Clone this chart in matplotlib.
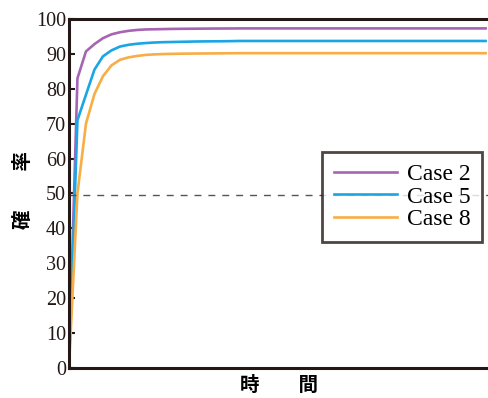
import matplotlib.pyplot as plt
import numpy as np

plt.rcParams['font.family'] = ['Liberation Serif', 'DejaVu Serif']

# sampled curves (time step index vs probability %)
t = np.arange(0, 50)
case2 = [0, 83, 90.7, 92.8, 94.5, 95.6, 96.2, 96.6, 96.85, 97.0, 97.05, 97.1,
         97.15, 97.18, 97.2, 97.22, 97.24, 97.26, 97.27, 97.28] + [97.3] * 30
case5 = [0, 71, 78.3, 85.5, 89.3, 91.0, 92.1, 92.6, 92.9, 93.1, 93.25, 93.35,
         93.4, 93.45, 93.5, 93.55, 93.58, 93.6, 93.62, 93.65] + [93.7] * 30
case8 = [0, 50, 70, 78.5, 83.6, 86.7, 88.3, 89.0, 89.4, 89.7, 89.85, 89.95,
         90.0, 90.05, 90.08, 90.1, 90.12, 90.14, 90.16, 90.18] + [90.2] * 30
labels = ['Case 2', 'Case 5', 'Case 8']
colors = ['#a764b3', '#1aa5e6', '#f8ad45']
threshold = 49.5

fig = plt.figure(figsize=(4.89, 3.98), dpi=100)
ax = fig.add_axes([0.141, 0.0754, 0.859, 0.8769])

for y, lab, c in zip([case2, case5, case8], labels, colors):
    ax.plot(t, y, color=c, lw=1.9, label=lab)
ax.axhline(threshold, color='#555555', lw=1.0, dashes=(5, 5))

ax.set_xlim(0, 49.4)
ax.set_ylim(0, 100)
ax.set_yticks(np.arange(0, 101, 10))
ax.set_xticks([])
ax.tick_params(axis='y', direction='in', length=4, width=1.5, labelsize=14.5, colors='#231815', pad=2)
for s in ['left', 'top', 'bottom']:
    ax.spines[s].set_linewidth(2.2)
    ax.spines[s].set_color('#231815')
ax.spines['right'].set_visible(False)

ax.set_ylabel('確\u3000\u3000率', family=['Noto Sans CJK JP'], fontsize=14, fontweight='bold')
ax.yaxis.set_label_coords(-0.085, 0.51)
ax.set_xlabel('時\u3000\u3000間', family=['Noto Sans CJK JP'], fontsize=14, fontweight='bold', labelpad=6)

leg = ax.legend(loc='center right', bbox_to_anchor=(1.012, 0.49), fontsize=17, frameon=True, fancybox=False,
                handlelength=2.7, handletextpad=0.4, borderpad=0.5, labelspacing=0.05)
leg.get_frame().set_edgecolor('#231815')
leg.get_frame().set_linewidth(2.0)

fig.savefig('out.png', dpi=100)
